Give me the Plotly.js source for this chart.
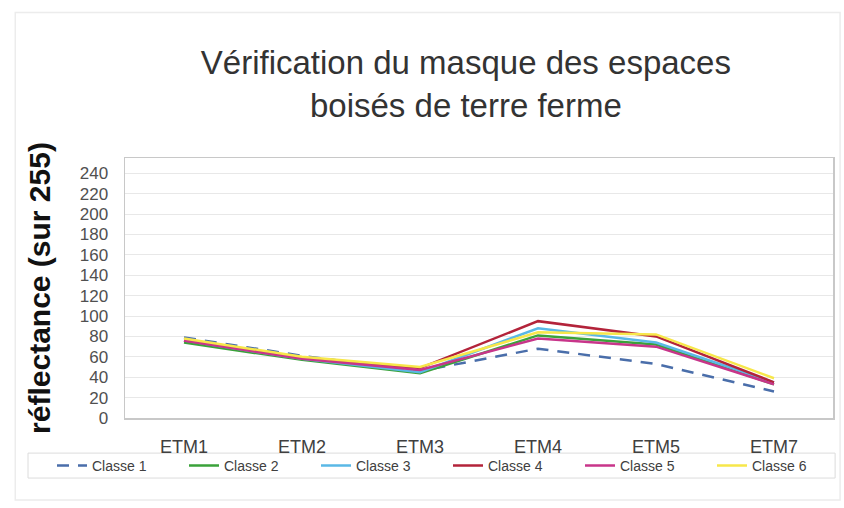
<!DOCTYPE html>
<html>
<head>
<meta charset="utf-8">
<script src="https://cdn.plot.ly/plotly-3.0.1.min.js"></script>
<style>html,body{margin:0;padding:0;background:#fff;}#chart{width:844px;height:508px;}</style>
</head>
<body>
<div id="chart"></div>
<script>
const categories = ["ETM1", "ETM2", "ETM3", "ETM4", "ETM5", "ETM7"];
const seriesNames = ["Classe 1", "Classe 2", "Classe 3", "Classe 4", "Classe 5", "Classe 6"];
const classe1 = [79, 61, 46, 68, 53, 26];
const classe2 = [74, 57, 44, 81, 72, 33];
const classe3 = [76, 58, 45, 88, 74, 35];
const classe4 = [76, 59, 49, 95, 80, 35];
const classe5 = [76, 58, 47, 78, 70, 33];
const classe6 = [78, 60, 50, 84, 82, 39];
const yTickValues = [0, 20, 40, 60, 80, 100, 120, 140, 160, 180, 200, 220, 240];

const seriesValues = [classe1, classe2, classe3, classe4, classe5, classe6];
const colors = ["#4a6eaa", "#3aa23a", "#5ab8e6", "#b3233a", "#c8358a", "#f7e74a"];
const dashes = ["12px,9px", "solid", "solid", "solid", "solid", "solid"];

const traces = seriesValues.map((vals, i) => ({
  type: "scatter",
  mode: "lines",
  name: seriesNames[i],
  x: categories,
  y: vals,
  line: { color: colors[i], width: 2.5, dash: dashes[i] }
}));

const font = "Liberation Sans, Arial, sans-serif";
const layout = {
  width: 844,
  height: 508,
  paper_bgcolor: "#ffffff",
  plot_bgcolor: "#ffffff",
  margin: { l: 125, r: 11, t: 158, b: 90 },
  font: { family: font, color: "#595959", size: 15 },
  title: {
    text: "Vérification du masque des espaces<br>boisés de terre ferme",
    font: { family: font, size: 33, color: "#333333" },
    x: 0.552, xanchor: "center",
    y: 0.854, yref: "container", yanchor: "middle"
  },
  xaxis: {
    type: "category",
    range: [-0.5, 5.5],
    showgrid: false,
    showline: true, linecolor: "#c8c8c8", linewidth: 1.5, mirror: true,
    ticks: "outside", ticklen: 12, tickcolor: "rgba(0,0,0,0)",
    tickfont: { family: font, size: 18, color: "#404040" },
    fixedrange: true
  },
  yaxis: {
    range: [0, 255],
    tickvals: yTickValues,
    ticktext: yTickValues.map(String),
    showgrid: true, gridcolor: "#e8e8e8", gridwidth: 1,
    zeroline: false,
    showline: true, linecolor: "#c8c8c8", linewidth: 1.5, mirror: true,
    ticks: "outside", ticklen: 12, tickcolor: "rgba(0,0,0,0)",
    tickfont: { family: font, size: 17, color: "#505050" },
    title: {
      text: "réflectance (sur 255)",
      font: { family: font, size: 30, color: "#111111", weight: "bold" },
      standoff: 20
    },
    fixedrange: true
  },
  showlegend: true,
  legend: {
    orientation: "h",
    x: -0.094, xanchor: "left",
    y: -0.184, yanchor: "middle",
    borderwidth: 0,
    bgcolor: "rgba(0,0,0,0)",
    font: { family: font, size: 14, color: "#404040" },
    entrywidth: 87, entrywidthmode: "pixels",
    tracegroupgap: 0
  },
  shapes: [{
    type: "rect", xref: "paper", yref: "paper",
    x0: -0.155, x1: 1.01, y0: -0.315, y1: 1.56,
    line: { color: "#ececec", width: 1.5 }, fillcolor: "rgba(0,0,0,0)", layer: "below"
  }, {
    type: "rect", xref: "paper", yref: "paper",
    x0: -0.137, x1: 1.003, y0: -0.231, y1: -0.135,
    line: { color: "#dcdcdc", width: 1 }, fillcolor: "rgba(0,0,0,0)", layer: "below"
  }]
};

Plotly.newPlot("chart", traces, layout, { displayModeBar: false, staticPlot: true });
</script>
</body>
</html>
